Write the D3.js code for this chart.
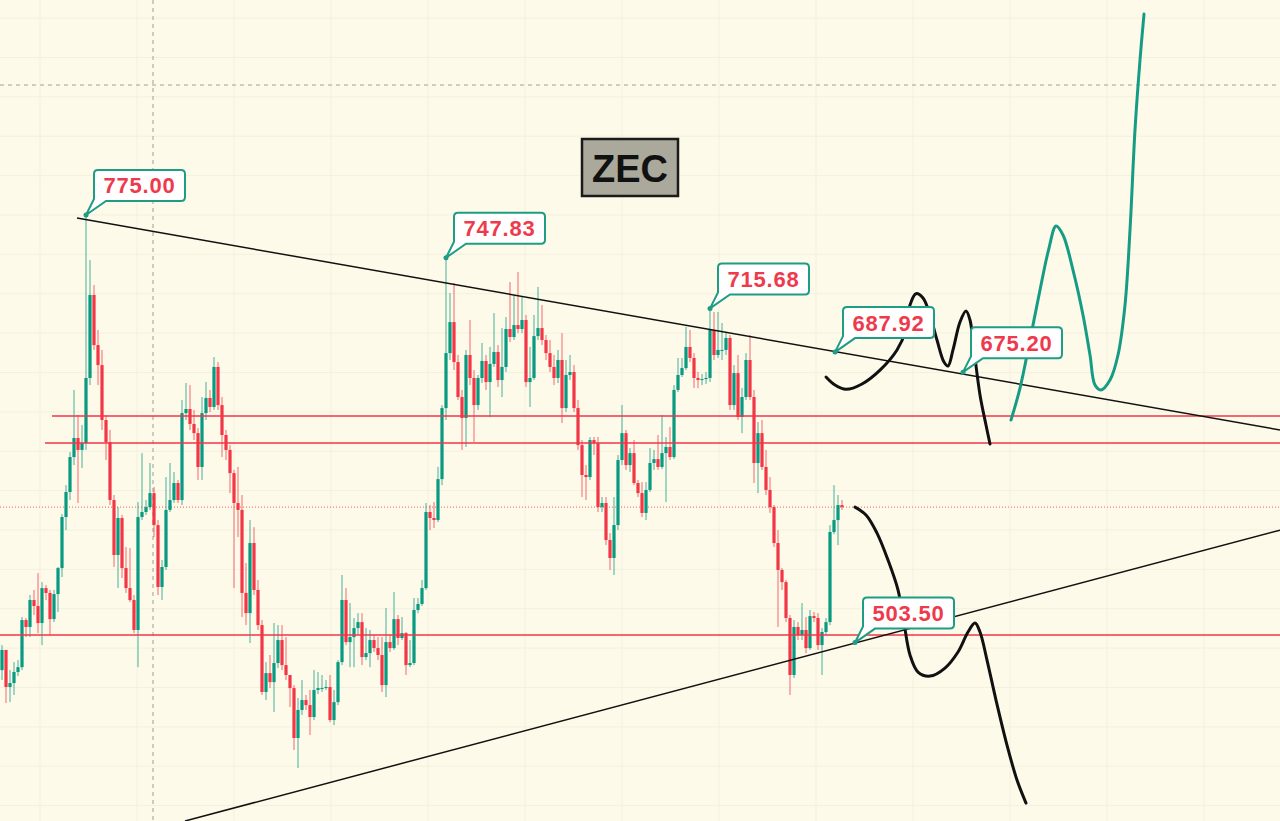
<!DOCTYPE html>
<html><head><meta charset="utf-8">
<script src="https://cdn.jsdelivr.net/npm/d3@7"></script>
<style>html,body{margin:0;padding:0;background:#fdfae9;overflow:hidden}</style>
</head><body><svg id="c" width="1280" height="821"></svg>
<script>
// ---- data (ZEC candles, price units) ----
const firstOpen = 486.0;
const closes = [498.8,475.3,477.8,484.8,487.9,517.8,513.4,530.5,526.7,515.9,
538.1,535.0,518.4,534.3,550.8,583.2,599.1,621.3,633.4,625.8,
630.2,671.5,724.2,692.4,679.7,644.8,630.8,594.0,559.1,582.6,
550.8,538.1,530.5,511.5,583.2,586.4,589.5,598.4,578.1,538.8,
551.5,587.7,594.0,604.8,594.0,649.2,651.8,642.3,636.5,615.0,
649.2,658.8,653.1,678.5,654.3,635.3,625.8,611.1,592.1,587.7,
535.0,522.2,566.7,536.9,514.6,472.1,484.1,478.4,490.5,505.1,
489.2,482.9,474.6,442.9,460.7,467.0,463.8,456.2,473.4,474.6,
474.6,475.3,454.3,465.7,491.1,530.5,503.8,507.0,512.7,516.5,
494.3,496.8,505.1,500.0,495.6,476.5,503.8,500.0,518.4,506.4,
509.5,489.2,490.5,524.2,528.0,538.1,586.4,582.6,581.3,
607.3,652.4,687.3,707.0,681.6,659.4,646.1,686.1,671.5,654.3,
671.5,682.3,668.9,680.4,688.0,670.2,678.5,702.6,697.5,705.1,
702.6,708.3,668.9,671.5,698.1,703.2,695.6,687.3,678.5,671.5,
682.9,652.4,673.4,675.3,652.4,628.9,609.9,608.6,632.1,630.2,
589.5,592.1,568.6,557.2,578.1,619.4,636.5,616.2,623.8,604.8,
598.4,585.8,600.4,617.5,620.0,615.0,623.8,627.7,621.3,663.9,
673.4,677.8,691.2,684.2,671.5,670.2,670.8,671.5,702.0,686.1,
689.3,689.3,696.9,654.3,674.6,646.7,659.4,682.9,659.4,617.5,
636.5,615.0,600.4,589.5,566.7,549.6,541.9,519.1,482.9,513.4,
508.3,511.5,500.0,520.3,519.1,501.9,510.2,516.5,573.7,581.3,
590.8,589.5];
const highs = [501.9,496.8,486.0,491.1,492.4,519.7,519.1,533.7,536.9,547.6,
541.9,540.0,536.9,536.9,551.5,585.1,603.5,624.5,663.9,648.0,
641.6,775.0,746.4,730.5,702.0,689.3,648.0,638.5,597.2,589.5,
584.5,564.2,563.5,533.7,592.7,623.8,594.0,617.5,602.3,581.3,
555.9,608.6,617.5,611.8,606.7,657.5,668.3,667.0,651.2,639.7,
659.4,668.9,663.9,684.8,681.6,659.4,638.5,628.9,613.1,615.0,
597.2,554.0,581.3,576.8,543.2,517.8,491.1,495.6,515.9,514.6,
514.6,507.0,482.9,476.5,468.3,479.7,470.2,473.4,486.0,484.8,
482.9,479.7,482.9,473.4,492.4,546.4,538.1,528.6,519.1,522.2,
522.2,512.7,511.5,508.3,507.0,507.0,525.4,508.3,535.6,521.0,
519.7,510.2,505.1,531.8,531.8,543.2,592.1,590.8,592.7,
615.0,654.3,747.83,725.4,731.8,686.1,663.9,689.3,708.3,676.5,
673.4,693.7,686.1,691.2,712.7,692.4,703.2,710.2,732.4,724.2,
738.8,722.9,711.5,691.2,711.5,729.3,717.8,698.8,695.6,686.1,
689.3,700.0,682.9,686.1,679.7,657.5,632.1,616.2,634.0,634.0,
634.0,595.9,595.9,573.0,595.9,622.6,654.3,638.5,627.0,632.1,
606.7,605.4,605.4,627.0,625.8,635.3,648.0,634.0,640.4,667.0,
684.2,684.2,703.9,702.0,687.3,675.3,674.0,675.3,715.68,713.4,
713.4,706.4,700.7,698.8,679.7,686.1,665.1,687.3,698.8,663.9,
643.5,644.8,625.8,608.6,590.8,574.9,550.8,543.2,521.0,517.8,
516.5,528.6,519.7,524.2,522.9,522.2,512.7,519.1,578.1,603.5,
597.2,594.0];
const lows = [479.7,465.1,465.7,470.2,482.2,486.0,507.0,507.0,521.0,509.5,
501.9,530.5,508.3,516.5,522.9,545.1,574.9,594.0,616.2,592.1,
614.3,625.8,667.0,689.3,667.0,638.5,619.4,590.8,551.5,538.1,
544.5,535.0,529.2,509.5,487.9,581.3,584.5,587.7,570.5,533.7,
530.5,549.6,586.4,592.1,592.1,590.8,644.8,638.5,632.1,606.7,
606.7,644.8,649.9,651.2,651.2,621.3,619.4,598.4,538.1,570.5,
519.7,514.6,503.2,533.7,511.5,470.2,467.0,474.6,459.4,487.3,
486.0,479.7,462.6,435.3,423.8,457.5,460.7,444.8,454.3,470.8,
472.1,473.4,453.0,451.1,463.8,489.2,501.9,487.9,487.9,508.3,
489.2,492.4,487.9,497.5,492.4,472.1,468.9,497.5,498.8,501.9,
505.1,482.9,487.9,489.2,522.2,526.7,536.9,574.9,576.2,
580.0,603.5,644.8,682.9,676.5,657.5,625.8,627.7,667.0,630.8,
651.2,668.3,663.9,646.7,678.5,665.8,659.4,675.3,694.3,695.6,
700.0,700.0,665.8,653.1,670.2,695.6,692.4,682.9,675.3,667.0,
668.3,642.9,649.9,670.2,649.9,625.8,595.9,594.0,606.7,622.6,
586.4,586.4,565.4,549.6,546.4,574.9,616.2,613.1,611.8,603.5,
595.9,583.2,581.3,599.1,613.1,613.1,613.7,592.7,619.4,620.0,
662.6,672.1,676.5,681.6,665.1,665.1,667.0,667.7,668.9,682.9,
684.2,682.9,686.1,651.2,651.2,644.8,636.5,657.5,657.5,604.8,
598.4,613.1,597.2,585.8,564.2,513.4,536.9,516.5,470.2,481.0,
505.1,505.1,496.8,498.8,516.5,498.8,482.9,508.3,514.6,572.4,
565.4,587.7];

// horizontal levels (price) and the bar index where each ray starts
const levelPrices = [647.4, 630.2, 508.3];
const levelStarts = [12.5, 10.75, -1];
const lastPrice = 589.5;
const crossPrice = 857.5, crossIndex = 37.75;

// price callouts: [bar index, price]
const callouts = [[21, 775.00],[111, 747.83],[177, 715.68],[208.25, 687.92],[240.25, 675.20],[213.25, 503.50]];

// trendlines [bar index, price]
const upperTrend = [[18.75, 773.1],[319.5, 638.5]];
const lowerTrend = [[45.75, 390.2],[319.5, 574.9]];

// hand-drawn scenario sketches [bar index, price]
const sketchTop = [[206,672.1],[208.25,667.0],[211,664.3],[215,667.7],[219.5,676.5],[223.75,689.3],[226,702.0],[227,717.8],[228.5,725.0],[230.25,722.3],[232,711.5],[233.75,695.6],[235.5,681.6],[236.5,679.1],[237.75,689.3],[239.5,707.0],[241,714.0],[242,708.3],[243,689.3],[244.5,660.7],[246,641.6],[247,629.6]];
const sketchBottom = [[213.25,589.5],[216,584.5],[218.75,573.0],[221.5,555.9],[224,536.9],[225.5,515.9],[227,495.6],[229,484.8],[232,482.2],[235.75,487.3],[239,497.5],[241.5,510.2],[243.25,515.9],[244.5,510.2],[246.25,492.4],[248.5,467.0],[251.25,438.4],[253.75,416.2],[256,401.6]];
const sketchTeal = [[252.25,644.8],[254.5,665.1],[257,695.6],[259.5,727.4],[261.75,754.0],[263.5,768.0],[265.25,762.3],[267.75,740.0],[270.25,711.5],[272,686.1],[273.25,667.0],[274.75,663.9],[277,670.2],[279,686.1],[280.75,717.8],[282,765.4],[283.25,829.0],[284.5,873.4],[285.5,902.6]];

const title = "ZEC";

// ---- chart ----
const W = 1280, H = 821;
const svg = d3.select("#c");
const x = d3.scaleLinear().domain([0, closes.length - 1]).range([2, 842]);
const y = d3.scaleLinear().domain([390.2, 911.5]).range([H, 0]);
const UP = "#089981", DN = "#f23645";

svg.append("rect").attr("width", W).attr("height", H).attr("fill", "#fdfae9");

// grid
const g = svg.append("g");
const vgrid = d3.range(9.5, 330, 24.25);
g.selectAll(".vg").data(vgrid).join("line")
  .attr("x1", d => x(d)).attr("x2", d => x(d)).attr("y1", 0).attr("y2", H)
  .attr("stroke", "#f4f0df").attr("stroke-width", 1);
const hgrid = d3.range(400, 925, 25);
g.selectAll(".hg").data(hgrid).join("line")
  .attr("x1", 0).attr("x2", W).attr("y1", d => y(d)).attr("y2", d => y(d))
  .attr("stroke", "#f4f0df").attr("stroke-width", 1);

// crosshair
svg.append("line").attr("x1", 0).attr("x2", W).attr("y1", y(crossPrice)).attr("y2", y(crossPrice))
  .attr("stroke", "#a09f95").attr("stroke-dasharray", "4,4");
svg.append("line").attr("x1", x(crossIndex)).attr("x2", x(crossIndex)).attr("y1", 0).attr("y2", H)
  .attr("stroke", "#a09f95").attr("stroke-dasharray", "4,4");

// last price dotted line
svg.append("line").attr("x1", 0).attr("x2", W).attr("y1", y(lastPrice)).attr("y2", y(lastPrice))
  .attr("stroke", DN).attr("stroke-dasharray", "1,2").attr("stroke-width", 1).attr("opacity", 0.8);

// candles
const bars = closes.map((c, i) => {
  const o = i === 0 ? firstOpen : closes[i - 1];
  return { i, o, c, h: Math.max(highs[i], o, c), l: Math.min(lows[i], o, c) };
});
const cg = svg.append("g");
cg.selectAll(".w").data(bars).join("line")
  .attr("x1", d => x(d.i)).attr("x2", d => x(d.i))
  .attr("y1", d => y(d.h)).attr("y2", d => y(d.l))
  .attr("stroke", d => d.c >= d.o ? UP : DN).attr("stroke-opacity", 0.75).attr("stroke-width", 1);
cg.selectAll(".b").data(bars).join("rect")
  .attr("x", d => x(d.i) - 1.6).attr("width", 3.2)
  .attr("y", d => y(Math.max(d.o, d.c)))
  .attr("height", d => Math.max(1, Math.abs(y(d.o) - y(d.c))))
  .attr("fill", d => d.c >= d.o ? UP : DN);

// level lines
svg.selectAll(".lv").data(levelPrices).join("line")
  .attr("x1", (d, k) => x(levelStarts[k])).attr("x2", W)
  .attr("y1", d => y(d)).attr("y2", d => y(d))
  .attr("stroke", "#f0364a").attr("stroke-width", 1.4);

// trendlines
const line = d3.line().x(d => x(d[0])).y(d => y(d[1]));
[upperTrend, lowerTrend].forEach(t => {
  svg.append("path").attr("d", line(t)).attr("stroke", "#111").attr("stroke-width", 1.5).attr("fill", "none");
});

// sketches
const sk = d3.line().x(d => x(d[0])).y(d => y(d[1])).curve(d3.curveCatmullRom.alpha(0.5));
svg.append("path").attr("d", sk(sketchTop)).attr("stroke", "#111").attr("stroke-width", 3)
  .attr("fill", "none").attr("stroke-linecap", "round").attr("stroke-linejoin", "round");
svg.append("path").attr("d", sk(sketchBottom)).attr("stroke", "#111").attr("stroke-width", 3)
  .attr("fill", "none").attr("stroke-linecap", "round").attr("stroke-linejoin", "round");
svg.append("path").attr("d", sk(sketchTeal)).attr("stroke", "#169c85").attr("stroke-width", 3)
  .attr("fill", "none").attr("stroke-linecap", "round").attr("stroke-linejoin", "round");

// callouts
const fmt = d3.format(".2f");
const TEAL = "#1f9c86";
callouts.forEach(([i, p]) => {
  const ax = x(i), ay = y(p);
  const x0 = ax + 8, y1 = ay - 14, y0 = y1 - 31, x1 = x0 + 91, r = 4;
  const path = `M${x0 + r},${y0} H${x1 - r} Q${x1},${y0} ${x1},${y0 + r} V${y1 - r} Q${x1},${y1} ${x1 - r},${y1} H${x0 + 12} L${ax},${ay} L${x0},${y1 - 2} V${y0 + r} Q${x0},${y0} ${x0 + r},${y0} Z`;
  svg.append("path").attr("d", path).attr("fill", "#ffffff").attr("stroke", TEAL).attr("stroke-width", 2);
  svg.append("circle").attr("cx", ax).attr("cy", ay).attr("r", 2.5).attr("fill", TEAL);
  svg.append("text").attr("x", (x0 + x1) / 2).attr("y", (y0 + y1) / 2 + 8)
    .attr("text-anchor", "middle").attr("font-family", "Liberation Sans, Arial, sans-serif")
    .attr("font-weight", "bold").attr("font-size", 22).attr("letter-spacing", 0.8)
    .attr("fill", "#ee3a4c").text(fmt(p));
});

// title box
const tb = svg.append("g");
tb.append("rect").attr("x", 582).attr("y", 139).attr("width", 96).attr("height", 57)
  .attr("fill", "#aaa99b").attr("stroke", "#1b1b1b").attr("stroke-width", 2.5);
tb.append("text").attr("x", 630).attr("y", 182).attr("text-anchor", "middle")
  .attr("font-family", "Liberation Sans, Arial, sans-serif").attr("font-weight", "bold")
  .attr("font-size", 38).attr("fill", "#111").text(title);
</script></body></html>
